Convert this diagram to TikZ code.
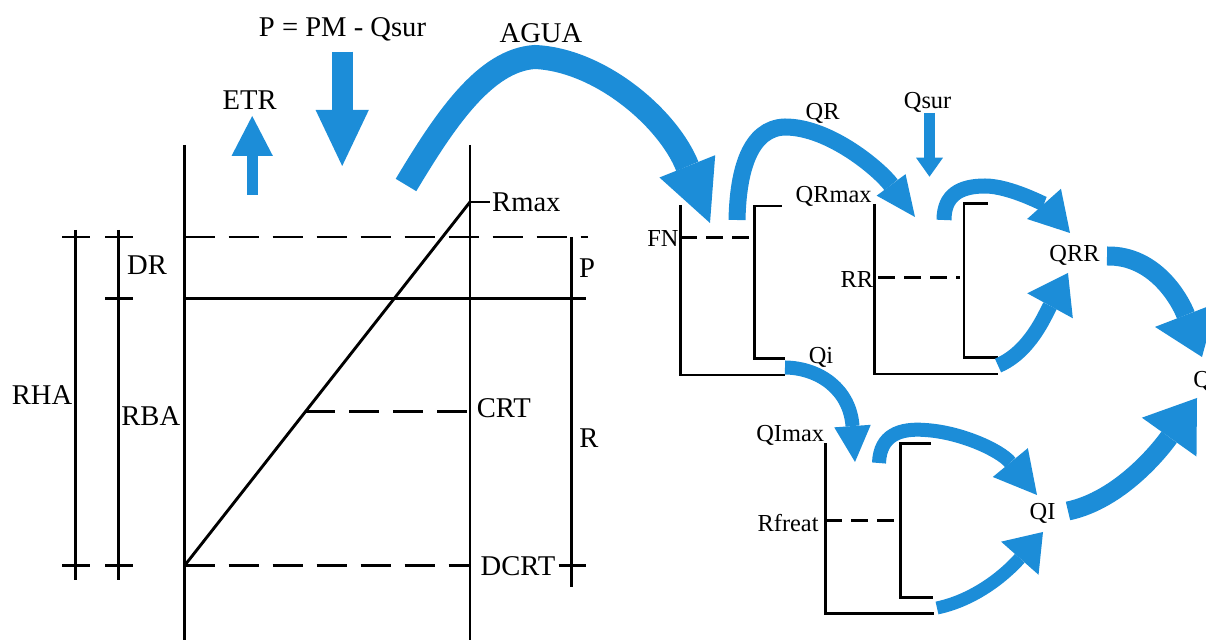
\documentclass[tikz,border=0pt]{standalone}
\usepackage{fontspec}
\setmainfont{Liberation Serif}
\usetikzlibrary{arrows.meta}
\definecolor{flow}{RGB}{28,141,216}
\begin{document}
\begin{tikzpicture}[x=0.5pt,y=-0.5pt,
  wall/.style={line width=1.45pt, draw=black},
  dashL/.style={wall, dash pattern=on 15pt off 7pt},
  dashR/.style={wall, dash pattern=on 8.5pt off 4.5pt},
  lblL/.style={font=\fontsize{14.3}{16}\selectfont, inner sep=0pt, anchor=base},
  lblR/.style={font=\fontsize{12.2}{14}\selectfont, inner sep=0pt, anchor=base},
  fl/.style={draw=flow, line cap=butt},
]
\useasboundingbox (0,0) rectangle (1206,640);
\clip (0,0) rectangle (1206,640);

% ---------------- left tank ----------------
\coordinate (LT) at (184.5,145); \coordinate (LB) at (184.5,640);
\coordinate (RT) at (470,145);   \coordinate (RB) at (470,640);
\draw[wall] (LT) -- (LB);
\draw[wall] (RT) -- (RB);
\coordinate (dtL) at (184.5,237); \coordinate (dtR) at (587.5,237);
\draw[dashL] (dtL) -- (dtR);
\coordinate (slL) at (184.5,298.3); \coordinate (slR) at (585.5,298.3);
\draw[wall] (slL) -- (slR);
\coordinate (diagB) at (184.5,565.7); \coordinate (diagT) at (470,202);
\draw[wall] (diagB) -- (diagT);
\coordinate (rmaxT) at (490,202);
\draw[wall] (diagT) -- (rmaxT);
\coordinate (crtL) at (305.4,411.7); \coordinate (crtR) at (470,411.7);
\draw[dashL] (crtL) -- (crtR);
\coordinate (dcrtR) at (470,565.7);
\draw[dashL] (diagB) -- (dcrtR);

% dimension lines
\draw[wall] (75.8,230) -- (75.8,580);
\draw[wall] (62.4,237) -- (89.9,237);
\draw[wall] (62.4,565.7) -- (89.9,565.7);
\draw[wall] (118.6,230) -- (118.6,580);
\draw[wall] (105.2,237) -- (132.8,237);
\draw[wall] (105.2,298.3) -- (132.8,298.3);
\draw[wall] (105.2,565.7) -- (132.8,565.7);
\draw[wall] (571.4,237) -- (571.4,586.7);
\draw[wall] (558.7,565.7) -- (585.5,565.7);

% left labels
\node[lblL] (eq) at (342.5,37) {P = PM - Qsur};
\node[lblL] (agua) at (541,42.7) {AGUA};
\node[lblL] (etr) at (249.7,110) {ETR};
\node[lblL] (dr) at (147,275) {DR};
\node[lblL] (pl) at (587,278) {P};
\node[lblL, anchor=base west] (rmax) at (491.8,211.7) {Rmax};
\node[lblL] (rha) at (42,405) {RHA};
\node[lblL] (rba) at (150.8,426) {RBA};
\node[lblL, anchor=base west] (crt) at (476.5,418) {CRT};
\node[lblL] (rl) at (589,447.7) {R};
\node[lblL, anchor=base west] (dcrt) at (480.3,576) {DCRT};

% straight blue arrows
\coordinate (etrS) at (252.2,195); \coordinate (etrE) at (252.2,116);
\draw[fl, line width=5.4pt, -{Triangle[length=20pt,width=20.7pt,line width=0pt]}] (etrS) -- (etrE);
\coordinate (pS) at (342.2,51.7); \coordinate (pE) at (342.2,166);
\draw[fl, line width=10.3pt, -{Triangle[length=28pt,width=26.6pt,line width=0pt]}] (pS) -- (pE);
\coordinate (qsS) at (929.5,113); \coordinate (qsE) at (929.5,176.7);
\draw[fl, line width=5.4pt, -{Triangle[length=9.5pt,width=13.5pt,line width=0pt]}] (qsS) -- (qsE);

% AGUA arrow
\coordinate (agS) at (406,185); \coordinate (agM) at (535,57); \coordinate (agE) at (710,223);
\draw[fl, line width=12pt, -{Triangle[length=30.5pt,width=30pt,line width=0pt]}]
  (agS) .. controls (445,120) and (485,60) .. (agM) .. controls (600,60) and (668,118) .. (agE);

% ---------------- right tanks ----------------
% tank 1
\draw[wall] (680.4,205) -- (680.4,375) -- (784.8,375);
\draw[wall] (781.7,206) -- (754.6,206) -- (754.6,358.3) -- (784.8,358.3);
\draw[dashR] (680.4,237.5) -- (754.6,237.5);
% tank 2
\draw[wall] (874.4,204) -- (874.4,374) -- (998,374);
\draw[wall] (987.7,203.3) -- (964,203.3) -- (964,357.7) -- (998,357.7);
\draw[dashR] (878,277.7) -- (960,277.7);
% tank 3
\draw[wall] (825.4,443.3) -- (825.4,613.3) -- (934.4,613.3);
\draw[wall] (930.5,443.7) -- (900.3,443.7) -- (900.3,597.7) -- (933,597.7);
\draw[dashR] (825.4,520.7) -- (900.3,520.7);

% right labels
\node[lblR, anchor=base east] (fn) at (679,246.7) {FN};
\node[lblR, anchor=base east] (qrmax) at (872,203) {QRmax};
\node[lblR, anchor=base east] (rr) at (873.5,288) {RR};
\node[lblR] (qr) at (822.6,120) {QR};
\node[lblR] (qsur) at (927.6,109) {Qsur};
\node[lblR] (qi) at (821,363.3) {Qi};
\node[lblR] (qrr) at (1074.5,261.7) {QRR};
\node[lblR, anchor=base east] (qimax) at (824.5,441.7) {QImax};
\node[lblR, anchor=base east] (rfreat) at (819,531.7) {Rfreat};
\node[lblR] (qI) at (1042.6,520) {QI};
\node[lblR, anchor=base west] (q) at (1193,388) {Q};

% curved flow arrows
\coordinate (qrS) at (737,220); \coordinate (qrE) at (915,217);
\draw[fl, line width=8.5pt, -{Triangle[length=20pt,width=18pt,line width=0pt]}]
  (qrS) .. controls (738,170) and (750,128) .. (785,127) .. controls (830,127) and (880,170) .. (qrE);

\coordinate (r1S) at (944,220); \coordinate (r1E) at (1070,233);
\draw[fl, line width=7.5pt, -{Triangle[length=19.5pt,width=22.7pt,line width=0pt]}]
  (r1S) .. controls (944,195) and (960,186) .. (985,186) .. controls (1010,186) and (1045,205) .. (r1E);

\coordinate (r2S) at (998,365.5); \coordinate (r2E) at (1068,273);
\draw[fl, line width=7.5pt, -{Triangle[length=18.7pt,width=26pt,line width=0pt]}]
  (r2S) .. controls (1030,352) and (1045,315) .. (r2E);

\coordinate (rqS) at (1107,256); \coordinate (rqE) at (1202,357);
\draw[fl, line width=9.5pt, -{Triangle[length=22.5pt,width=33pt,line width=0pt]}]
  (rqS) .. controls (1155,255) and (1180,300) .. (rqE);

\coordinate (qiS) at (785,367.5); \coordinate (qiE) at (855,462);
\draw[fl, line width=7pt, -{Triangle[length=18pt,width=18.3pt,line width=0pt]}]
  (qiS) .. controls (820,368) and (850,390) .. (qiE);

\coordinate (i1S) at (879,463); \coordinate (i1E) at (1037,495);
\draw[fl, line width=7pt, -{Triangle[length=21pt,width=22.7pt,line width=0pt]}]
  (i1S) .. controls (880,435) and (900,428) .. (925,430) .. controls (960,432) and (1000,450) .. (i1E);

\coordinate (i2S) at (937,608); \coordinate (i2E) at (1043,532);
\draw[fl, line width=6.5pt, -{Triangle[length=17.5pt,width=25pt,line width=0pt]}]
  (i2S) .. controls (975,600) and (1005,575) .. (i2E);

\coordinate (iqS) at (1068,511); \coordinate (iqE) at (1197,398);
\draw[fl, line width=9.5pt, -{Triangle[length=24pt,width=33.5pt,line width=0pt]}]
  (iqS) .. controls (1120,500) and (1160,450) .. (iqE);
\end{tikzpicture}
\end{document}
